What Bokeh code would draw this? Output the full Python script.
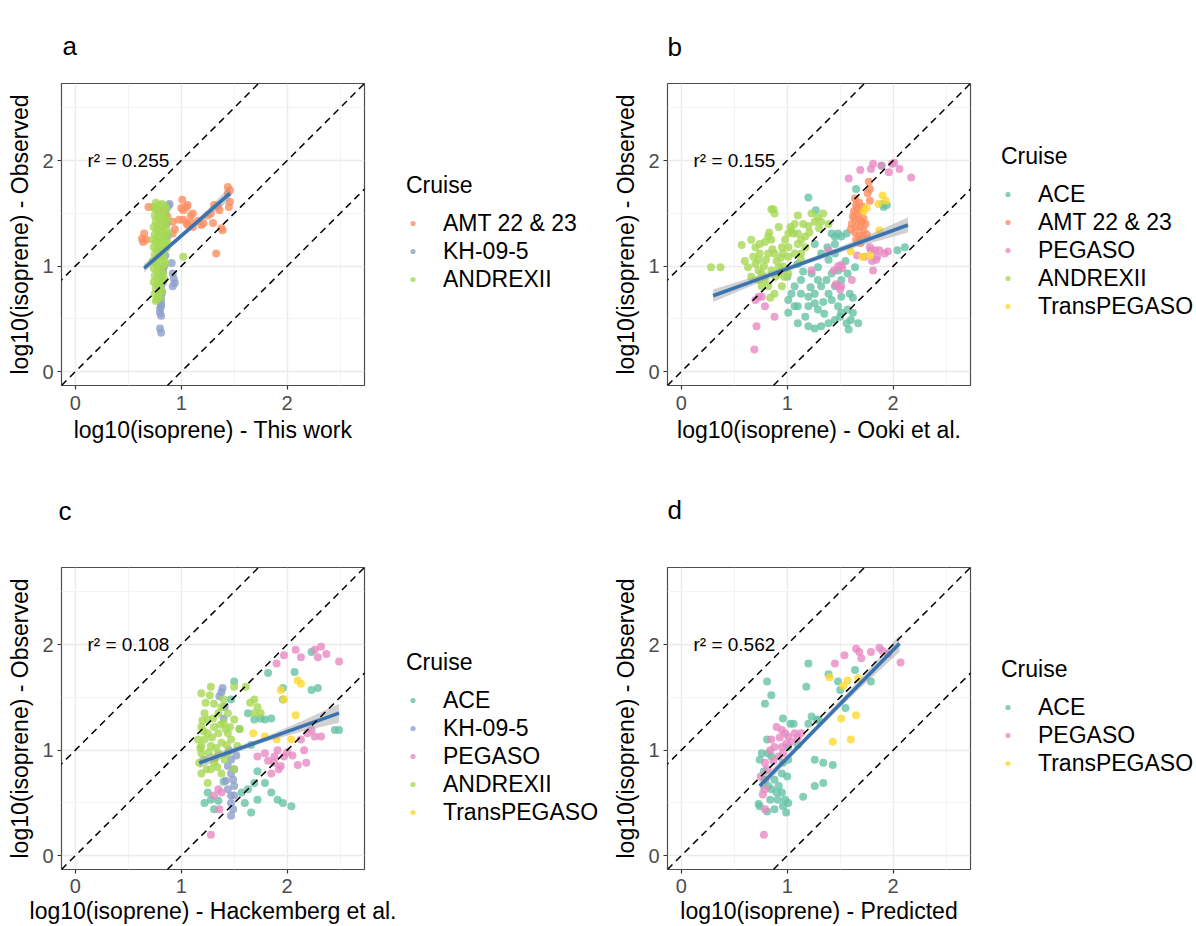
from bokeh.plotting import figure
from bokeh.models import Range1d, FixedTicker, Slope, Legend, LegendItem
from bokeh.layouts import row, column
from bokeh.embed import file_html
from bokeh.resources import INLINE
from bokeh.core.properties import value

FONT = "Liberation Sans"

CRUISE_COLORS = {
    "ACE": "#66C2A5",
    "AMT 22 & 23": "#FC8D62",
    "KH-09-5": "#8DA0CB",
    "PEGASO": "#E78AC3",
    "ANDREXII": "#A6D854",
    "TransPEGASO": "#FFD92F",
}

PANEL_LETTERS = ["a", "b", "c", "d"]
X_LABELS = [
    "log10(isoprene) - This work",
    "log10(isoprene) - Ooki et al.",
    "log10(isoprene) - Hackemberg et al.",
    "log10(isoprene) - Predicted",
]
Y_LABEL = "log10(isoprene) - Observed"
LEGEND_TITLE = "Cruise"
R2_VALUES = ["0.255", "0.155", "0.108", "0.562"]
R2_POS = (0.115, 2.0)
GUIDE_INTERCEPTS = [1, 0, -1]
TICKS = [0, 1, 2]
MINOR_TICKS = [0.5, 1.5, 2.5]
LIMITS = (-0.13, 2.73)

# ---------------- panel a : This work ----------------
A_AMT = [(0.69, 1.56), (0.65, 1.31), (0.67, 1.25), (0.63, 1.26), (0.64, 1.23), (0.73, 1.56),
         (0.78, 1.53), (0.81, 1.53), (0.87, 1.47), (0.92, 1.42), (0.94, 1.35), (1.00, 1.55),
         (1.01, 1.63), (1.02, 1.53), (1.05, 1.56), (1.06, 1.58), (1.09, 1.48), (1.06, 1.39),
         (1.11, 1.37), (1.09, 1.42), (0.98, 1.44), (1.05, 1.41), (1.11, 1.50), (1.16, 1.43),
         (1.19, 1.39), (1.21, 1.41), (1.25, 1.48), (1.28, 1.50), (1.30, 1.41), (1.31, 1.58),
         (1.35, 1.56), (1.36, 1.53), (1.38, 1.36), (1.39, 1.34), (1.44, 1.75), (1.44, 1.69),
         (1.45, 1.56), (1.46, 1.61), (1.46, 1.72), (1.33, 1.12), (0.92, 1.31), (1.02, 1.44)]
A_KH = [(0.89, 1.59), (0.85, 1.52), (0.88, 1.57), (0.87, 1.28), (0.84, 1.00), (0.82, 1.15),
        (0.91, 1.03), (0.92, 0.93), (0.94, 0.84), (0.92, 0.81), (0.93, 0.88), (0.81, 0.90),
        (0.81, 0.81), (0.81, 0.73), (0.81, 0.69), (0.81, 0.65), (0.81, 0.62), (0.80, 0.56),
        (0.81, 0.53), (0.80, 0.41), (0.81, 0.37), (0.80, 0.77), (0.83, 0.85), (0.85, 1.10),
        (0.86, 1.40), (0.83, 0.95), (0.80, 0.60), (0.82, 0.75)]
A_ANDREX = [(0.76, 1.60), (0.79, 1.58), (0.82, 1.59), (0.85, 1.57), (0.74, 1.55), (0.77, 1.53),
            (0.80, 1.52), (0.83, 1.50), (0.86, 1.54), (0.75, 1.48), (0.78, 1.46), (0.81, 1.45),
            (0.84, 1.47), (0.87, 1.44), (0.76, 1.42), (0.79, 1.40), (0.82, 1.38), (0.85, 1.41),
            (0.74, 1.37), (0.77, 1.35), (0.80, 1.33), (0.83, 1.34), (0.86, 1.36), (0.75, 1.30),
            (0.78, 1.28), (0.81, 1.27), (0.84, 1.29), (0.73, 1.25), (0.76, 1.23), (0.79, 1.22),
            (0.82, 1.20), (0.85, 1.24), (0.74, 1.18), (0.77, 1.16), (0.80, 1.15), (0.83, 1.13),
            (0.86, 1.17), (0.75, 1.11), (0.78, 1.09), (0.81, 1.08), (0.84, 1.06), (0.73, 1.05),
            (0.76, 1.03), (0.79, 1.01), (0.82, 1.00), (0.85, 1.02), (0.74, 0.98), (0.77, 0.96),
            (0.80, 0.94), (0.83, 0.93), (0.75, 0.91), (0.78, 0.89), (0.81, 0.87), (0.84, 0.88),
            (0.74, 0.85), (0.77, 0.83), (0.80, 0.82), (0.76, 0.79), (0.79, 0.77), (0.82, 0.76),
            (0.75, 0.74), (0.78, 0.72), (0.77, 0.69), (0.80, 0.70), (0.76, 0.67), (1.02, 1.09),
            (0.88, 1.31), (0.87, 1.22)]
A_FIT_X = [0.65, 1.46]
A_FIT_Y = [0.98, 1.69]
A_BAND_X = [0.65, 0.85, 1.05, 1.25, 1.46]
A_BAND_LO = [0.94, 1.13, 1.305, 1.47, 1.625]
A_BAND_HI = [1.02, 1.18, 1.355, 1.54, 1.755]

# ---------------- panel b : Ooki et al. ----------------
B_ACE = [(1.20, 1.65), (1.42, 1.31), (1.45, 1.28), (1.48, 1.31), (1.51, 1.28), (1.56, 1.31),
         (1.45, 1.12), (1.39, 1.06), (1.29, 0.99), (1.23, 0.93), (1.13, 0.87), (1.07, 0.81),
         (1.04, 0.74), (1.01, 0.68), (1.10, 0.62), (1.20, 0.62), (1.26, 0.65), (1.29, 0.59),
         (1.17, 0.52), (1.10, 0.46), (1.20, 0.43), (1.26, 0.41), (1.32, 0.43), (1.39, 0.46),
         (1.45, 0.49), (1.51, 0.56), (1.57, 0.59), (1.62, 0.56), (1.67, 0.46), (1.60, 0.49),
         (1.56, 0.46), (1.48, 0.62), (1.42, 0.68), (1.39, 0.74), (1.32, 0.81), (1.26, 0.74),
         (1.20, 0.71), (1.45, 0.81), (1.51, 0.87), (1.57, 0.93), (1.64, 0.99), (1.42, 0.93),
         (1.48, 0.96), (1.37, 0.87), (1.29, 0.87), (1.13, 0.74), (1.01, 0.56), (1.07, 0.62),
         (1.32, 1.12), (1.45, 1.21), (1.26, 1.21), (1.65, 1.73), (1.90, 1.59), (1.91, 1.56),
         (1.94, 1.58), (1.89, 1.95), (2.11, 1.18), (2.04, 1.15), (1.51, 0.71), (1.59, 0.74),
         (1.35, 0.55), (1.15, 0.95), (1.38, 1.18), (1.62, 0.70), (1.55, 1.05), (1.34, 0.66),
         (1.22, 0.80), (1.00, 0.90), (1.50, 0.52), (1.68, 1.25), (1.10, 1.02), (1.58, 0.40),
         (1.27, 1.53)]
B_AMT = [(1.78, 1.73), (1.76, 1.69), (1.64, 1.64), (1.65, 1.58), (1.68, 1.60), (1.72, 1.56),
         (1.63, 1.52), (1.67, 1.50), (1.70, 1.52), (1.64, 1.45), (1.68, 1.44), (1.72, 1.45),
         (1.61, 1.40), (1.65, 1.38), (1.69, 1.37), (1.72, 1.34), (1.64, 1.32), (1.68, 1.29),
         (1.71, 1.28), (1.78, 1.62), (1.66, 1.55), (1.74, 1.40), (1.65, 1.25), (1.62, 1.47),
         (1.70, 1.42), (1.60, 1.35), (1.75, 1.30), (1.69, 1.22), (1.77, 1.80)]
B_PEG = [(1.81, 1.97), (1.79, 1.92), (1.89, 1.95), (1.99, 1.97), (2.06, 1.92), (2.17, 1.84),
         (1.69, 1.91), (1.58, 1.83), (1.96, 1.89), (1.78, 1.18), (1.83, 1.15), (1.87, 1.15),
         (1.95, 1.14), (1.80, 1.05), (1.85, 1.09), (1.81, 0.96), (1.66, 1.10), (1.51, 1.01),
         (1.52, 0.98), (1.48, 1.00), (1.46, 0.83), (1.39, 1.15), (0.73, 0.71), (0.70, 0.68),
         (0.76, 0.71), (0.71, 0.43), (0.69, 0.21), (0.88, 0.52), (0.79, 0.62), (1.23, 0.96),
         (1.51, 0.81), (1.48, 0.81), (1.61, 0.87), (1.73, 1.09), (1.79, 1.15), (1.84, 1.06),
         (1.92, 1.12), (2.01, 1.98), (1.50, 0.78), (1.44, 0.96)]
B_TRANS = [(1.90, 1.67), (1.86, 1.59), (1.93, 1.62), (1.87, 1.34), (1.72, 1.52), (1.71, 1.09),
           (1.60, 1.14), (1.78, 1.10), (1.75, 1.55)]
B_ANDREX = [(0.28, 0.99), (0.37, 0.99), (0.66, 1.25), (0.70, 1.18), (0.74, 1.12), (0.79, 1.23),
            (0.82, 1.12), (0.85, 1.25), (0.87, 1.54), (0.88, 1.50), (0.92, 1.37), (0.95, 1.18),
            (0.98, 1.25), (1.01, 1.09), (1.03, 1.37), (1.06, 1.31), (1.10, 1.21), (1.13, 1.25),
            (1.17, 1.18), (1.21, 1.32), (1.23, 1.50), (1.26, 1.42), (1.29, 1.46), (1.32, 1.42),
            (1.34, 1.50), (1.39, 1.40), (0.73, 0.96), (0.76, 0.93), (0.79, 0.87), (0.82, 0.81),
            (0.88, 0.74), (0.92, 0.93), (0.96, 1.00), (1.01, 0.93), (0.85, 0.96), (0.80, 1.06),
            (0.68, 1.09), (0.63, 0.99), (0.73, 1.06), (0.88, 1.12), (0.92, 0.99), (0.96, 1.12),
            (1.01, 1.18), (1.07, 1.12), (1.10, 1.31), (1.07, 1.40), (1.17, 1.28), (0.74, 1.21),
            (0.82, 1.28), (1.01, 1.31), (1.13, 1.12), (0.76, 0.81), (0.84, 0.70), (0.95, 0.81),
            (0.73, 0.87), (0.66, 0.90), (1.13, 1.06), (0.85, 1.54), (1.10, 1.48), (1.04, 1.34),
            (0.90, 1.05), (0.86, 1.16), (0.78, 1.00), (0.94, 1.08), (0.70, 1.02), (1.15, 1.40),
            (0.60, 1.05), (0.89, 0.90), (0.97, 0.90), (1.30, 1.36), (0.57, 1.20), (0.83, 1.32),
            (1.20, 1.38)]
B_FIT_X = [0.30, 2.14]
B_FIT_Y = [0.72, 1.39]
B_BAND_X = [0.30, 0.75, 1.20, 1.65, 2.14]
B_BAND_LO = [0.66, 0.85, 1.025, 1.18, 1.32]
B_BAND_HI = [0.78, 0.92, 1.07, 1.245, 1.46]

# ---------------- panel c : Hackemberg et al. ----------------
C_ACE = [(1.50, 1.65), (1.47, 1.48), (1.63, 1.35), (1.69, 1.29), (1.79, 1.29), (1.85, 1.30),
         (1.82, 1.73), (1.96, 1.59), (1.96, 1.48), (2.07, 1.74), (2.23, 1.57), (2.29, 1.59),
         (2.45, 1.19), (2.49, 1.19), (2.23, 1.93), (1.63, 0.63), (1.72, 0.53), (1.91, 0.53),
         (1.96, 0.50), (2.04, 0.47), (1.66, 0.41), (1.57, 0.60), (1.79, 0.69), (1.69, 0.69),
         (1.25, 0.60), (1.28, 0.53), (1.22, 0.50), (1.31, 0.44), (1.75, 1.30), (1.55, 1.20),
         (1.72, 0.80), (1.40, 0.70), (1.85, 0.60), (1.60, 0.50), (1.35, 0.52), (1.66, 1.05)]
C_KH = [(1.38, 1.55), (1.39, 1.59), (1.36, 1.51), (1.41, 1.41), (1.47, 0.91), (1.44, 0.85),
        (1.47, 0.78), (1.49, 0.72), (1.50, 0.66), (1.44, 0.63), (1.47, 0.57), (1.47, 0.50),
        (1.49, 0.44), (1.47, 0.38), (1.50, 0.82), (1.42, 0.71), (1.50, 0.57), (1.45, 1.00),
        (1.52, 0.95), (1.40, 1.30)]
C_PEG = [(1.35, 0.63), (1.38, 0.60), (1.31, 0.57), (1.36, 0.44), (1.28, 0.20), (1.88, 0.94),
         (1.91, 1.00), (1.88, 0.88), (1.94, 0.85), (1.85, 0.78), (1.97, 0.94), (2.00, 0.98),
         (1.72, 0.94), (1.79, 0.97), (1.97, 1.90), (2.08, 1.95), (2.13, 1.88), (2.26, 1.95),
         (2.32, 1.98), (2.29, 1.88), (2.37, 1.91), (2.49, 1.84), (1.90, 1.82), (2.13, 1.10),
         (2.19, 1.16), (2.23, 1.19), (2.26, 1.13), (2.16, 1.00), (2.18, 0.88), (2.32, 1.13),
         (2.10, 0.86), (1.92, 0.82), (1.82, 0.90), (2.05, 0.95)]
C_ANDREX = [(1.19, 1.54), (1.27, 1.52), (1.31, 1.44), (1.22, 1.35), (1.35, 1.35), (1.44, 1.35),
            (1.19, 1.22), (1.25, 1.16), (1.35, 1.16), (1.44, 1.16), (1.19, 1.04), (1.28, 1.04),
            (1.38, 1.07), (1.47, 1.10), (1.22, 0.91), (1.31, 0.88), (1.41, 0.91), (1.19, 0.78),
            (1.28, 0.82), (1.38, 0.78), (1.25, 0.69), (1.50, 0.82), (1.69, 1.48), (1.72, 1.41),
            (1.69, 1.35), (1.75, 1.35), (1.50, 1.60), (1.61, 1.60), (1.16, 1.10), (1.19, 0.97),
            (1.35, 0.97), (1.44, 0.97), (1.53, 1.04), (1.22, 1.10), (1.31, 1.22), (1.40, 1.26),
            (1.50, 1.29), (1.25, 1.29), (1.38, 1.41), (1.23, 1.45), (1.30, 1.30), (1.42, 1.20),
            (1.26, 0.98), (1.33, 1.02), (1.21, 1.18), (1.29, 1.12), (1.37, 1.24), (1.17, 0.88),
            (1.24, 0.82), (1.34, 0.84), (1.46, 1.22), (1.28, 1.60), (1.40, 1.48), (1.20, 1.28),
            (1.32, 0.92), (1.55, 1.20), (1.65, 1.45), (1.18, 1.02), (1.43, 1.05)]
C_TRANS = [(1.68, 1.16), (1.94, 1.57), (2.10, 1.66), (2.13, 1.63), (2.08, 1.33), (2.04, 1.10),
           (1.90, 1.10), (1.79, 1.13), (1.97, 1.48)]
C_FIT_X = [1.17, 2.49]
C_FIT_Y = [0.88, 1.35]
C_BAND_X = [1.17, 1.50, 1.80, 2.15, 2.49]
C_BAND_LO = [0.83, 0.97, 1.08, 1.18, 1.26]
C_BAND_HI = [0.93, 1.025, 1.13, 1.28, 1.44]

# ---------------- panel d : Predicted ----------------
D_ACE = [(0.81, 1.65), (0.79, 1.44), (0.85, 1.52), (1.20, 1.82), (1.18, 1.60), (1.39, 1.72),
         (1.48, 1.65), (1.50, 1.57), (1.79, 1.65), (1.64, 1.76), (1.23, 1.32), (1.28, 1.29),
         (0.96, 1.30), (1.03, 1.25), (1.06, 1.25), (0.81, 1.10), (0.76, 0.97), (0.74, 0.91),
         (0.82, 0.97), (0.79, 0.72), (0.82, 0.66), (0.85, 0.63), (0.92, 0.66), (0.95, 0.60),
         (0.98, 0.53), (1.01, 0.50), (0.96, 0.47), (0.88, 0.44), (0.81, 0.42), (0.74, 0.47),
         (0.73, 0.49), (0.84, 0.53), (0.91, 0.53), (0.99, 0.41), (1.15, 0.56), (1.26, 0.66),
         (1.34, 0.69), (1.34, 0.88), (1.43, 0.86), (1.26, 0.91), (1.01, 1.03), (0.85, 0.94),
         (0.95, 0.78), (0.88, 0.72), (0.96, 0.88), (1.01, 0.91), (1.20, 1.25), (1.10, 1.05),
         (0.90, 0.60), (1.00, 0.75), (0.78, 0.80), (1.30, 1.28), (1.55, 1.40)]
D_PEG = [(0.90, 1.22), (0.95, 1.19), (0.98, 1.16), (1.01, 1.13), (1.07, 1.16), (1.13, 1.16),
         (0.85, 1.10), (0.88, 1.03), (0.95, 1.03), (0.84, 1.00), (0.92, 0.94), (0.96, 0.97),
         (0.79, 0.88), (0.81, 0.82), (0.75, 0.75), (0.79, 0.63), (0.77, 0.58), (0.79, 0.44),
         (0.78, 0.20), (1.45, 1.82), (1.54, 1.90), (1.65, 1.96), (1.68, 1.93), (1.70, 1.87),
         (1.79, 1.93), (1.87, 1.97), (1.90, 1.94), (1.95, 1.91), (2.07, 1.83), (0.93, 1.12),
         (1.04, 1.08), (0.87, 0.90), (1.10, 1.12), (0.99, 1.06)]
D_TRANS = [(1.40, 1.69), (1.57, 1.66), (1.67, 1.68), (1.51, 1.30), (1.65, 1.33), (1.43, 1.08),
           (1.60, 1.10), (1.53, 1.61)]
D_FIT_X = [0.74, 2.06]
D_FIT_Y = [0.66, 2.01]
D_BAND_X = [0.74, 1.00, 1.30, 1.65, 2.06]
D_BAND_LO = [0.60, 0.895, 1.21, 1.55, 1.93]
D_BAND_HI = [0.72, 0.955, 1.26, 1.635, 2.09]

# ------------- drawing -------------
PANELS = [
    dict(series=[("AMT 22 & 23", A_AMT), ("KH-09-5", A_KH), ("ANDREXII", A_ANDREX)],
         fit=(A_FIT_X, A_FIT_Y), band=(A_BAND_X, A_BAND_LO, A_BAND_HI)),
    dict(series=[("ACE", B_ACE), ("AMT 22 & 23", B_AMT), ("PEGASO", B_PEG),
                 ("ANDREXII", B_ANDREX), ("TransPEGASO", B_TRANS)],
         fit=(B_FIT_X, B_FIT_Y), band=(B_BAND_X, B_BAND_LO, B_BAND_HI)),
    dict(series=[("ACE", C_ACE), ("KH-09-5", C_KH), ("PEGASO", C_PEG),
                 ("ANDREXII", C_ANDREX), ("TransPEGASO", C_TRANS)],
         fit=(C_FIT_X, C_FIT_Y), band=(C_BAND_X, C_BAND_LO, C_BAND_HI)),
    dict(series=[("ACE", D_ACE), ("PEGASO", D_PEG), ("TransPEGASO", D_TRANS)],
         fit=(D_FIT_X, D_FIT_Y), band=(D_BAND_X, D_BAND_LO, D_BAND_HI)),
]

# layout geometry (pixels): plot figure + legend strip per panel
GEOM = [
    dict(w=404, h=447, left=61, right=40, top=83, bottom=62, title_so=45, title_off=1,
         lw=196, legend_loc=(2, 92), lab_so=6, ax_so=4),
    dict(w=400, h=447, left=67, right=30, top=83, bottom=62, title_so=44, title_off=0,
         lw=196, legend_loc=(1, 65), lab_so=6, ax_so=4),
    dict(w=404, h=479, left=61, right=40, top=120, bottom=57, title_so=83, title_off=-3,
         lw=196, legend_loc=(2, 43), lab_so=5, ax_so=2),
    dict(w=400, h=479, left=67, right=30, top=120, bottom=57, title_so=86, title_off=0,
         lw=196, legend_loc=(1, 92), lab_so=5, ax_so=2),
]
LEGEND_STRIP_RANGE = (-10, -9)   # keeps the legend proxies out of view


def make_panel(i):
    cfg = PANELS[i]
    g = GEOM[i]
    p = figure(width=g["w"], height=g["h"],
               x_range=Range1d(*LIMITS), y_range=Range1d(*LIMITS),
               output_backend="svg", toolbar_location=None, tools="",
               min_border_left=g["left"], min_border_right=g["right"],
               min_border_top=g["top"], min_border_bottom=g["bottom"],
               background_fill_color="white", border_fill_color="white",
               outline_line_color="#4D4D4D", outline_line_width=1.2,
               title=PANEL_LETTERS[i])
    p.title.align = "left"
    p.title.offset = g["title_off"]
    p.title.standoff = g["title_so"]
    p.title.text_font = FONT
    p.title.text_font_size = "26px"
    p.title.text_font_style = "normal"
    p.title.text_color = "black"

    for ax in (p.xaxis[0], p.yaxis[0]):
        ax.ticker = FixedTicker(ticks=TICKS, minor_ticks=MINOR_TICKS)
        ax.axis_line_color = None
        ax.major_tick_line_color = "#333333"
        ax.major_tick_line_width = 1.2
        ax.major_tick_out = 4
        ax.major_tick_in = 0
        ax.minor_tick_line_color = None
        ax.major_label_text_font = FONT
        ax.major_label_text_font_size = "20px"
        ax.major_label_text_color = "#4D4D4D"
        ax.axis_label_text_font = FONT
        ax.axis_label_text_font_size = "23px"
        ax.axis_label_text_font_style = "normal"
        ax.axis_label_text_color = "black"
    p.xaxis[0].axis_label = X_LABELS[i]
    p.yaxis[0].axis_label = Y_LABEL
    p.xaxis[0].major_label_standoff = g["lab_so"]
    p.xaxis[0].axis_label_standoff = g["ax_so"]
    p.yaxis[0].major_label_standoff = 4
    p.yaxis[0].axis_label_standoff = 6

    for grid in (p.xgrid[0], p.ygrid[0]):
        grid.grid_line_color = "#EBEBEB"
        grid.grid_line_width = 1.4
        grid.minor_grid_line_color = "#F3F3F3"
        grid.minor_grid_line_width = 1.0

    for name, pts in cfg["series"]:
        xs = [pt[0] for pt in pts]
        ys = [pt[1] for pt in pts]
        p.scatter(xs, ys, size=8, fill_color=CRUISE_COLORS[name], line_color=None,
                  fill_alpha=0.8)

    bx, blo, bhi = cfg["band"]
    p.varea(x=bx, y1=blo, y2=bhi, fill_color="#999999", fill_alpha=0.45)
    fx, fy = cfg["fit"]
    p.line(fx, fy, line_color="#3A74B0", line_width=3.5)

    for b in GUIDE_INTERCEPTS:
        p.add_layout(Slope(gradient=1, y_intercept=b, line_color="black",
                           line_width=1.5, line_dash="7 5"))

    p.text(x=[R2_POS[0]], y=[R2_POS[1]], text=["r² = " + R2_VALUES[i]],
           text_font=value(FONT), text_font_size="19px", text_color="black",
           text_align="left", text_baseline="middle")

    # legend strip to the right of the panel (same cruise data, kept out of view)
    lf = figure(width=g["lw"], height=g["h"],
                x_range=Range1d(*LEGEND_STRIP_RANGE), y_range=Range1d(*LEGEND_STRIP_RANGE),
                output_backend="svg", toolbar_location=None, tools="",
                x_axis_type=None, y_axis_type=None,
                min_border_left=0, min_border_right=0, min_border_top=0, min_border_bottom=0,
                outline_line_color=None, background_fill_color="white",
                border_fill_color="white")
    lf.xgrid.visible = False
    lf.ygrid.visible = False
    items = []
    for name, pts in cfg["series"]:
        xs = [pt[0] for pt in pts]
        ys = [pt[1] for pt in pts]
        r = lf.scatter(xs, ys, size=8, fill_color=CRUISE_COLORS[name], line_color=None,
                       fill_alpha=0.8)
        items.append(LegendItem(label=name, renderers=[r]))
    leg = Legend(items=items, title=LEGEND_TITLE, location=g["legend_loc"],
                 orientation="vertical", border_line_color=None,
                 background_fill_alpha=0, padding=0, margin=0, spacing=0,
                 glyph_width=13, glyph_height=28, label_height=28, label_standoff=24,
                 label_text_font=FONT, label_text_font_size="23px", label_text_color="black",
                 title_text_font=FONT, title_text_font_size="23px",
                 title_text_font_style="normal", title_text_color="black",
                 title_standoff=10)
    lf.add_layout(leg)
    return p, lf


built = [make_panel(i) for i in range(4)]
layout = column(
    row(built[0][0], built[0][1], built[1][0], built[1][1]),
    row(built[2][0], built[2][1], built[3][0], built[3][1]),
)

html = file_html(layout, INLINE)
open("out.html", "w").write(html)
